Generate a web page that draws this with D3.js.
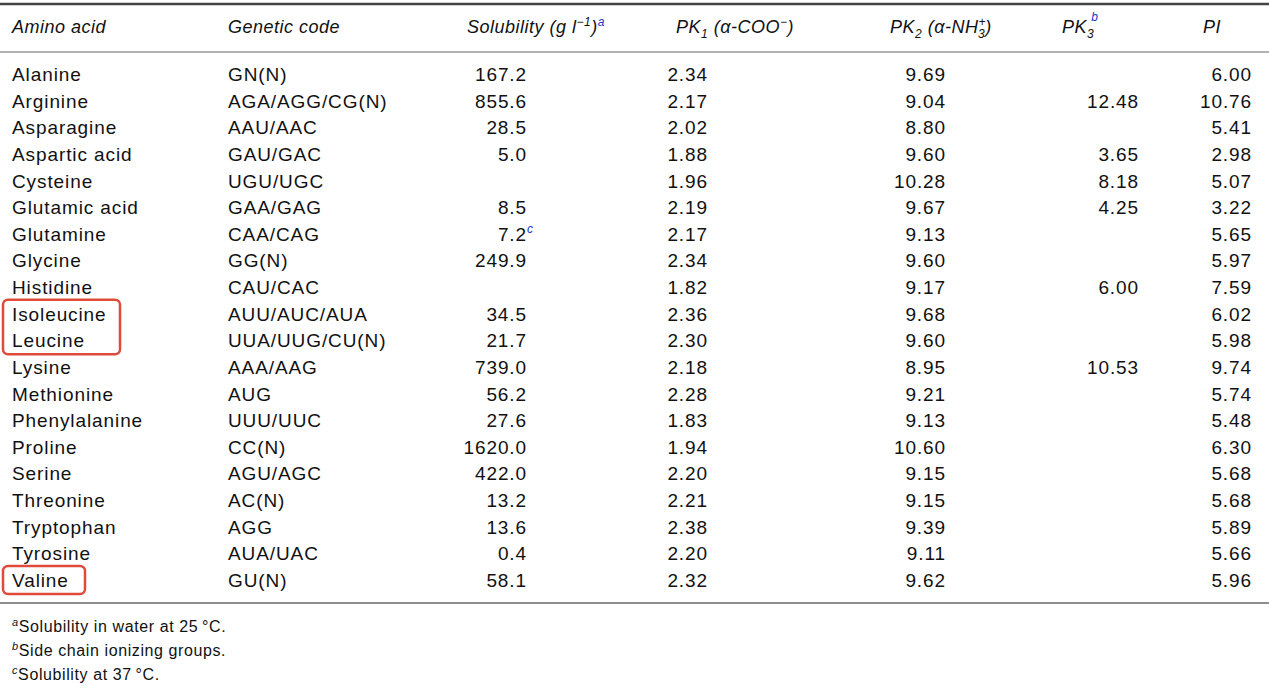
<!DOCTYPE html><html><head><meta charset="utf-8">
<script src="https://cdn.jsdelivr.net/npm/d3@7"></script>
<style>body{margin:0;background:#fff}svg{font-family:"Liberation Sans",Arial,sans-serif}</style></head><body>
<svg id="c" width="1269" height="696"></svg>
<script>
const aminoAcids=["Alanine","Arginine","Asparagine","Aspartic acid","Cysteine","Glutamic acid","Glutamine","Glycine","Histidine","Isoleucine","Leucine","Lysine","Methionine","Phenylalanine","Proline","Serine","Threonine","Tryptophan","Tyrosine","Valine"];
const geneticCodes=["GN(N)","AGA/AGG/CG(N)","AAU/AAC","GAU/GAC","UGU/UGC","GAA/GAG","CAA/CAG","GG(N)","CAU/CAC","AUU/AUC/AUA","UUA/UUG/CU(N)","AAA/AAG","AUG","UUU/UUC","CC(N)","AGU/AGC","AC(N)","AGG","AUA/UAC","GU(N)"];
const solubility=["167.2","855.6","28.5","5.0","","8.5","7.2","249.9","","34.5","21.7","739.0","56.2","27.6","1620.0","422.0","13.2","13.6","0.4","58.1"];
const pk1=["2.34","2.17","2.02","1.88","1.96","2.19","2.17","2.34","1.82","2.36","2.30","2.18","2.28","1.83","1.94","2.20","2.21","2.38","2.20","2.32"];
const pk2=["9.69","9.04","8.80","9.60","10.28","9.67","9.13","9.60","9.17","9.68","9.60","8.95","9.21","9.13","10.60","9.15","9.15","9.39","9.11","9.62"];
const pk3=["","12.48","","3.65","8.18","4.25","","","6.00","","","10.53","","","","","","","",""];
const pi=["6.00","10.76","5.41","2.98","5.07","3.22","5.65","5.97","7.59","6.02","5.98","9.74","5.74","5.48","6.30","5.68","5.68","5.89","5.66","5.96"];
const footnotes=[["a","Solubility in water at 25\u2009°C."],["b","Side chain ionizing groups."],["c","Solubility at 37\u2009°C."]];
const highlighted=[["Isoleucine","Leucine"],["Valine"]];

const svg=d3.select("#c");
const y=d3.scalePoint().domain(aminoAcids).range([74,580]);
const rule=(yy,w,c)=>svg.append("line").attr("x1",0).attr("x2",1269).attr("y1",yy).attr("y2",yy).attr("stroke",c).attr("stroke-width",w);
rule(4,2.5,"#444");rule(52,1.5,"#999");rule(603,1.5,"#666");
const col="#111";
const h=svg.append("g").attr("font-style","italic").attr("font-size",18).attr("letter-spacing",0.5).attr("fill",col);
h.append("text").attr("x",12).attr("y",33).text("Amino acid");
h.append("text").attr("x",228).attr("y",33).text("Genetic code");
let t=h.append("text").attr("x",467).attr("y",33);
t.append("tspan").text("Solubility (g l");t.append("tspan").attr("dy",-7).attr("font-size",12).text("−1");
t.append("tspan").attr("dy",7).text(")");t.append("tspan").attr("dy",-7).attr("font-size",12).attr("fill","#2233cc").text("a");
t=h.append("text").attr("x",676).attr("y",33);
t.append("tspan").text("PK");t.append("tspan").attr("dy",5).attr("font-size",12).text("1");
t.append("tspan").attr("dy",-5).text(" (α-COO");t.append("tspan").attr("dy",-7).attr("font-size",12).text("−");t.append("tspan").attr("dy",7).text(")");
t=h.append("text").attr("x",890).attr("y",33);
t.append("tspan").text("PK");t.append("tspan").attr("dy",5).attr("font-size",12).text("2");
t.append("tspan").attr("dy",-5).text(" (α-NH");t.append("tspan").attr("dy",-7).attr("font-size",12).text("+");
t.append("tspan").attr("dx",-8).attr("dy",12).attr("font-size",12).text("3");t.append("tspan").attr("dy",-5).text(")");
t=h.append("text").attr("x",1062).attr("y",33);
t.append("tspan").text("PK");t.append("tspan").attr("dy",5).attr("font-size",12).text("3");
t.append("tspan").attr("dx",-3).attr("dy",-17).attr("font-size",12).attr("fill","#2233cc").text("b");
h.append("text").attr("x",1203).attr("y",33).text("PI");
const cols=[{d:aminoAcids,x:12,a:"start"},{d:geneticCodes,x:228,a:"start"},{d:solubility,x:527,a:"end"},{d:pk1,x:708,a:"end"},{d:pk2,x:946,a:"end"},{d:pk3,x:1139,a:"end"},{d:pi,x:1252,a:"end"}];
const b=svg.append("g").attr("font-size",19).attr("letter-spacing",0.9).attr("fill",col);
cols.forEach(c=>{
  b.selectAll(null).data(c.d.map((v,i)=>({v,n:aminoAcids[i]}))).join("text")
   .attr("x",c.x).attr("y",d=>y(d.n)+7).attr("text-anchor",c.a).text(d=>d.v);
});
b.append("text").attr("x",527).attr("y",y("Glutamine")-1).attr("font-size",12).attr("font-style","italic").attr("fill","#2233cc").text("c");
const boxW=[117,82];
highlighted.forEach((g,i)=>{
  svg.append("rect").attr("x",3).attr("y",y(g[0])-14).attr("width",boxW[i]).attr("height",y(g[g.length-1])-y(g[0])+28)
   .attr("rx",5).attr("fill","none").attr("stroke","#e04a3a").attr("stroke-width",2.5);
});
const f=svg.append("g").attr("font-size",16).attr("letter-spacing",0.6).attr("fill",col);
footnotes.forEach((n,i)=>{const tt=f.append("text").attr("x",12).attr("y",632+i*24);
  tt.append("tspan").attr("font-style","italic").attr("font-size",11).attr("dy",-6).text(n[0]);
  tt.append("tspan").attr("dy",6).text(n[1]);});
</script></body></html>
